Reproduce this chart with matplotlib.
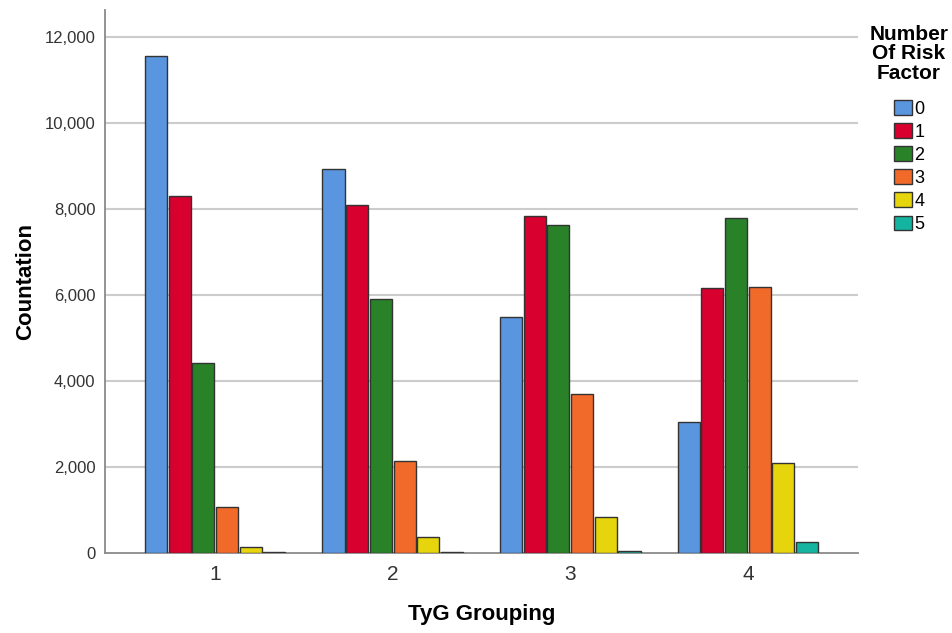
import matplotlib.pyplot as plt
import numpy as np
from matplotlib.patches import Patch

plt.rcParams['font.family'] = ['Liberation Sans', 'DejaVu Sans']

groups = ["1", "2", "3", "4"]
risk_levels = ["0", "1", "2", "3", "4", "5"]
counts = {
    "0": [11560, 8930, 5490, 3050],
    "1": [8300, 8085, 7830, 6160],
    "2": [4410, 5915, 7630, 7785],
    "3": [1080, 2135, 3705, 6190],
    "4": [150, 365, 830, 2100],
    "5": [15, 25, 50, 260],
}
colors = ["#5a96e0", "#d7002f", "#2a8228", "#f26a2a", "#e6d40c", "#14b4a0"]

fig = plt.figure(figsize=(9.52, 6.33), dpi=100)
ax = fig.add_axes([105 / 952, 1 - 553 / 633, (858 - 105) / 952, (553 - 10) / 633])

x = np.arange(len(groups))
step = 0.8 / len(risk_levels)
for i, lvl in enumerate(risk_levels):
    offs = (i - (len(risk_levels) - 1) / 2) * step
    ax.bar(x + offs, counts[lvl], width=step * 0.93, color=colors[i],
           edgecolor="#333333", linewidth=1.0, zorder=3)

ax.set_xlim(-0.62, 3.62)
ax.set_ylim(0, 12630)
ax.set_yticks(range(0, 12001, 2000))
ax.yaxis.set_major_formatter(plt.FuncFormatter(lambda v, p: "{:,}".format(int(v))))
ax.set_xticks(x)
ax.set_xticklabels(groups)

# grid lines, not at zero
for v in range(2000, 12001, 2000):
    ax.axhline(v, color="#cccccc", linewidth=1.5, zorder=1)

for s in ["top", "right"]:
    ax.spines[s].set_visible(False)
for s in ["left", "bottom"]:
    ax.spines[s].set_color("#8a8a8a")
    ax.spines[s].set_linewidth(1.3)

ax.tick_params(axis="y", length=0, pad=7, labelsize=12, labelcolor="#333333")
ax.tick_params(axis="x", length=0, pad=9, labelsize=15, labelcolor="#333333")

ax.set_ylabel("Countation", fontsize=16, fontweight="bold", labelpad=6)
ax.set_xlabel("TyG Grouping", fontsize=16, fontweight="bold", labelpad=14)

handles = [Patch(facecolor=c, edgecolor="#333333", linewidth=1.0) for c in colors]
leg = fig.legend(handles, risk_levels, loc="upper center",
                 bbox_to_anchor=(909 / 952, 1 - 12 / 633),
                 title="Number\nOf Risk\nFactor", frameon=False,
                 fontsize=13, handlelength=1.0, handleheight=0.9,
                 handletextpad=0.15, labelspacing=0.3, borderpad=0.2)
t = leg.get_title()
t.set_fontsize(15)
t.set_fontweight("bold")
t.set_linespacing(1.05)
t.set_multialignment("center")
leg._legend_box.sep = 12

fig.savefig("out.png", dpi=100)
